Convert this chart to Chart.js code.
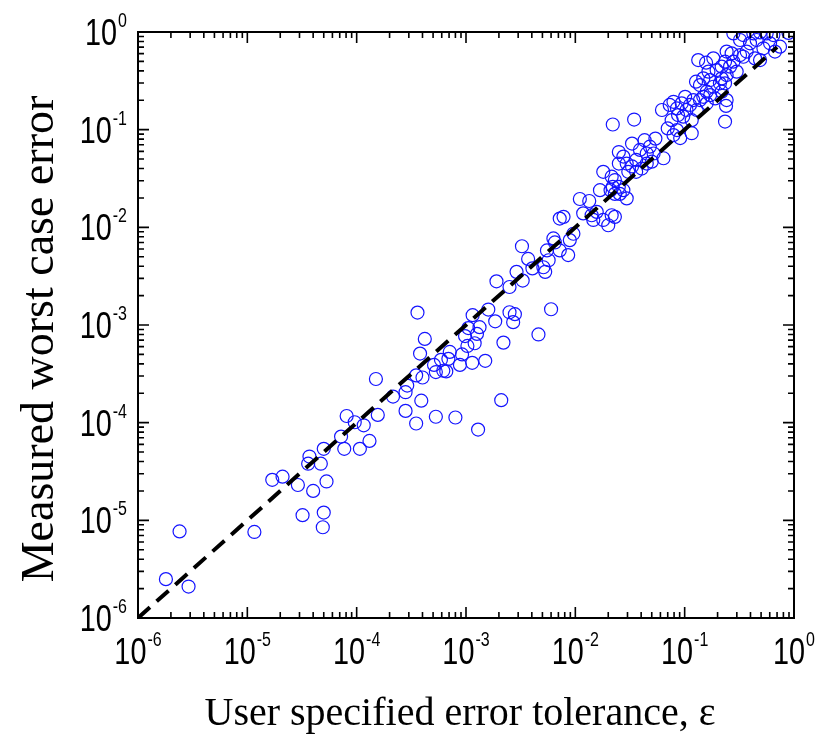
<!DOCTYPE html>
<html>
<head>
<meta charset="utf-8">
<script src="https://cdn.jsdelivr.net/npm/chart.js@4/dist/chart.umd.min.js"></script>
<style>
  html, body { margin: 0; padding: 0; background: #fff; }
  canvas { display: block; }
</style>
</head>
<body>
<canvas id="chart" width="819" height="735"></canvas>
<script>
// user specified tolerance (x) vs measured worst case error (y)
var tolerance = [
  1.8e-6, 2.4e-6, 2.9e-6, 1.16e-5, 1.69e-5, 2.1e-5, 2.9e-5, 3.2e-5, 3.7e-5, 3.6e-5,
  4.7e-5, 4.0e-5, 5.0e-5, 4.9e-5, 5.3e-5, 5.0e-5, 7.2e-5, 8.1e-5, 7.7e-5, 9.6e-5,
  1.07e-4, 1.16e-4, 1.31e-4, 1.5e-4, 1.56e-4, 2.15e-4, 2.8e-4, 2.9e-4, 2.8e-4, 3.5e-4,
  3.6e-4, 3.8e-4, 4.2e-4, 3.5e-4, 4.0e-4, 3.9e-4, 5.3e-4, 5.1e-4, 5.3e-4, 5.9e-4,
  6.2e-4, 6.6e-4, 7.1e-4, 6.9e-4, 8.0e-4, 8.8e-4, 9.2e-4, 9.8e-4, 1.03e-3, 1.05e-3,
  1.15e-3, 1.14e-3, 1.2e-3, 1.26e-3, 1.33e-3, 1.29e-3, 1.5e-3, 1.6e-3, 1.85e-3, 1.9e-3,
  2.1e-3, 2.2e-3, 2.5e-3, 2.5e-3, 2.8e-3, 2.7e-3, 2.9e-3, 3.25e-3, 3.3e-3, 3.7e-3,
  4.05e-3, 4.6e-3, 5.3e-3, 6.0e-3,
  5.1e-3, 5.7e-3, 5.5e-3, 6.3e-3, 6.5e-3, 7.2e-3, 8.6e-3, 8.9e-3, 9.6e-3, 7.2e-3, 7.8e-3,
  1.1e-2, 1.34e-2, 1.18e-2, 1.41e-2, 1.46e-2, 1.57e-2, 1.68e-2, 1.8e-2, 2.0e-2, 2.15e-2, 2.3e-2,
  1.8e-2, 2.15e-2, 2.3e-2, 2.2e-2, 2.1e-2, 2.5e-2, 2.75e-2, 2.95e-2, 2.55e-2, 2.3e-2,
  2.5e-2, 2.75e-2, 2.95e-2, 2.5e-2, 3.05e-2, 3.6e-2, 3.3e-2, 3.3e-2, 3.9e-2, 3.6e-2,
  4.05e-2, 4.5e-2, 5.0e-2, 4.3e-2, 4.8e-2, 5.4e-2, 4.5e-2, 5.2e-2, 6.4e-2,
  7.0e-2, 7.9e-2, 9.1e-2, 0.116, 8.5e-2,
  6.2e-2, 7.3e-2, 7.9e-2, 8.5e-2, 9.4e-2, 0.101, 0.104, 0.112, 0.12, 0.129,
  8.7e-2, 7.6e-2, 9.7e-2, 0.116,
  0.138, 0.148, 0.159, 0.171, 0.19, 0.218, 0.242, 0.239, 0.234,
  0.133, 0.157, 0.183, 0.165, 0.148, 0.171, 0.196, 0.218, 0.234, 0.21, 0.242, 0.183, 0.159, 0.138, 0.127,
  0.279, 0.344, 0.425, 0.489, 0.562, 0.647, 0.745, 0.67, 0.604, 0.525, 0.455, 0.396, 0.321,
  0.369, 0.44, 0.344, 0.489, 0.269, 0.299, 0.321, 0.242, 0.26, 0.218, 0.234, 0.279,
  2.2e-2, 3.45e-2, 0.89
];
var measured = [
  2.5e-6, 7.7e-6, 2.1e-6, 7.6e-6, 2.6e-5, 2.8e-5, 2.3e-5, 1.13e-5, 4.5e-5, 3.8e-5,
  3.8e-5, 2.0e-5, 1.2e-5, 8.5e-6, 2.5e-5, 5.4e-5, 7.2e-5, 1.17e-4, 5.4e-5, 1.01e-4,
  5.4e-5, 9.4e-5, 6.5e-5, 2.8e-4, 1.2e-4, 1.85e-4, 2.05e-4, 2.4e-4, 1.32e-4, 9.8e-5,
  1.34e-3, 5.1e-4, 7.2e-4, 3.05e-4, 2.9e-4, 1.68e-4, 1.15e-4, 3.9e-4, 3.3e-4, 4.4e-4,
  3.4e-4, 3.35e-4, 5.3e-4, 4.5e-4, 1.13e-4, 3.9e-4, 5.0e-4, 7.7e-4, 6.1e-4, 9.3e-4,
  1.26e-3, 4.1e-4, 6.5e-4, 8.1e-4, 9.5e-4, 8.5e-5, 4.3e-4, 1.44e-3, 1.09e-3, 2.8e-3,
  1.7e-4, 6.6e-4, 2.45e-3, 1.35e-3, 1.29e-3, 1.07e-3, 3.5e-3, 6.4e-3, 2.85e-3, 4.75e-3,
  3.8e-3, 8.0e-4, 3.5e-3, 1.45e-3,
  3.9e-3, 4.6e-3, 5.8e-3, 7.7e-3, 7.0e-3, 5.8e-3, 5.2e-3, 7.4e-3, 8.6e-3, 1.23e-2, 1.28e-2,
  1.95e-2, 1.86e-2, 1.39e-2, 1.33e-2, 1.19e-2, 1.44e-2, 2.4e-2, 1.19e-2, 1.05e-2, 1.33e-2, 1.28e-2,
  3.7e-2, 3.3e-2, 3.05e-2, 2.6e-2, 2.4e-2, 2.6e-2, 2.4e-2, 1.98e-2, 2.2e-2, 2.2e-2,
  5.9e-2, 5.3e-2, 4.5e-2, 4.5e-2, 3.7e-2, 3.7e-2, 4.2e-2, 7.2e-2, 6.2e-2, 4.9e-2,
  4.0e-2, 4.5e-2, 4.7e-2, 7.8e-2, 6.7e-2, 8.1e-2, 5.7e-2, 5.7e-2, 5.1e-2,
  0.103, 8.8e-2, 8.2e-2, 9.2e-2, 9.9e-2,
  0.159, 0.179, 0.193, 0.165, 0.186, 0.217, 0.159, 0.179, 0.201, 0.159,
  0.141, 0.125, 0.136, 0.125,
  0.201, 0.217, 0.186, 0.226, 0.209, 0.245, 0.201, 0.175, 0.121,
  0.516, 0.485, 0.537, 0.393, 0.335, 0.322, 0.408, 0.442, 0.497, 0.298, 0.362, 0.275, 0.245, 0.286, 0.31,
  0.968, 0.931, 0.968, 0.99, 0.968, 0.931, 0.708, 0.63, 0.766, 0.681, 0.828, 0.766, 0.828,
  0.63, 0.537, 0.558, 0.516, 0.604, 0.393, 0.581, 0.63, 0.442, 0.335, 0.298, 0.497,
  0.113, 0.127, 0.98
];
// dashed y = x reference line, start and end
var refLine = [1e-6, 0.7];
// decade tick exponents (10^-6 ... 10^0)
var tickExp = [-6, -5, -4, -3, -2, -1, 0];
var xTitle = 'User specified error tolerance, \u03b5';
var yTitle = 'Measured worst case error';

var points = [];
for (var i = 0; i < Math.min(tolerance.length, measured.length); i++) {
  points.push({ x: tolerance[i], y: measured[i] });
}

var squeeze = 0.8;
function drawPow(ctx, exp, x, y, align) {
  var base = '10', sup = String(exp);
  ctx.font = '36px "Liberation Sans", Arial, sans-serif';
  var bw = ctx.measureText(base).width * squeeze;
  ctx.font = '20px "Liberation Sans", Arial, sans-serif';
  var sw = ctx.measureText(sup).width * squeeze;
  var total = bw + 1 + sw;
  var left = align === 'center' ? x - total / 2 : x - total;
  ctx.textAlign = 'left';
  ctx.textBaseline = 'alphabetic';
  ctx.save();
  ctx.translate(left, y);
  ctx.scale(squeeze, 1);
  ctx.font = '36px "Liberation Sans", Arial, sans-serif';
  ctx.fillText(base, 0, 0);
  ctx.restore();
  ctx.save();
  ctx.translate(left + bw + 1, y - 18);
  ctx.scale(squeeze, 1);
  ctx.font = '20px "Liberation Sans", Arial, sans-serif';
  ctx.fillText(sup, 0, 0);
  ctx.restore();
}

var axisDecor = {
  id: 'axisDecor',
  afterDraw: function (chart) {
    var ctx = chart.ctx, a = chart.chartArea;
    var xs = chart.scales.x, ys = chart.scales.y;
    ctx.save();
    ctx.strokeStyle = '#000';
    ctx.fillStyle = '#000';
    ctx.lineWidth = 1.6;
    // inward ticks on all four sides
    for (var k = 0; k < tickExp.length; k++) {
      for (var m = 1; m < 10; m++) {
        if (m > 1 && k === tickExp.length - 1) break;
        var v = m * Math.pow(10, tickExp[k]);
        var len = m === 1 ? 11 : 6;
        var px = xs.getPixelForValue(v), py = ys.getPixelForValue(v);
        ctx.beginPath();
        ctx.moveTo(px, a.bottom); ctx.lineTo(px, a.bottom - len);
        ctx.moveTo(px, a.top); ctx.lineTo(px, a.top + len);
        ctx.moveTo(a.left, py); ctx.lineTo(a.left + len, py);
        ctx.moveTo(a.right, py); ctx.lineTo(a.right - len, py);
        ctx.stroke();
      }
    }
    ctx.lineWidth = 2;
    ctx.strokeRect(a.left, a.top, a.right - a.left, a.bottom - a.top);

    // decade labels
    for (var j = 0; j < tickExp.length; j++) {
      var val = Math.pow(10, tickExp[j]);
      drawPow(ctx, tickExp[j], xs.getPixelForValue(val), a.bottom + 46, 'center');
      drawPow(ctx, tickExp[j], a.left - 11, ys.getPixelForValue(val) + 13, 'right');
    }

    // axis titles
    ctx.textAlign = 'center';
    ctx.textBaseline = 'alphabetic';
    ctx.font = '40px "Liberation Serif", "Times New Roman", serif';
    ctx.fillText(xTitle, 460, 725);
    ctx.save();
    ctx.translate(53, 339);
    ctx.rotate(-Math.PI / 2);
    ctx.font = '46px "Liberation Serif", "Times New Roman", serif';
    ctx.fillText(yTitle, 0, 0);
    ctx.restore();
    ctx.restore();
  }
};

var chart = new Chart(document.getElementById('chart'), {
  type: 'scatter',
  data: {
    datasets: [
      {
        type: 'line',
        data: [{ x: refLine[0], y: refLine[0] }, { x: refLine[1], y: refLine[1] }],
        borderColor: '#000',
        borderWidth: 4,
        borderDash: [16, 9],
        pointRadius: 0,
        fill: false,
        clip: 0
      },
      {
        data: points,
        borderColor: 'rgb(20,20,255)',
        backgroundColor: 'rgba(0,0,0,0)',
        pointRadius: 6.5,
        pointHoverRadius: 6.5,
        borderWidth: 1.2,
        clip: 0
      }
    ]
  },
  options: {
    responsive: false,
    animation: false,
    devicePixelRatio: 1,
    events: [],
    layout: { padding: { top: 32, right: 25, left: 0, bottom: 0 } },
    plugins: { legend: { display: false }, tooltip: { enabled: false } },
    scales: {
      x: {
        type: 'logarithmic', min: 1e-6, max: 1,
        ticks: { display: false }, grid: { display: false }, border: { display: false },
        afterFit: function (s) { s.height = 117; }
      },
      y: {
        type: 'logarithmic', min: 1e-6, max: 1,
        ticks: { display: false }, grid: { display: false }, border: { display: false },
        afterFit: function (s) { s.width = 138; }
      }
    }
  },
  plugins: [axisDecor]
});
</script>
</body>
</html>
